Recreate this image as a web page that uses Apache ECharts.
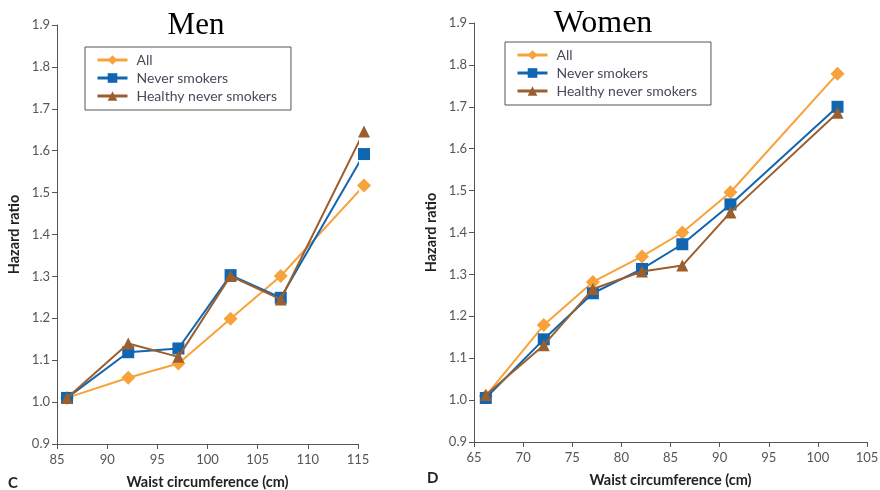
<!DOCTYPE html>
<html>
<head>
<meta charset="utf-8">
<script src="https://cdn.jsdelivr.net/npm/echarts@6/dist/echarts.min.js"></script>
<style>
  html, body { margin: 0; padding: 0; background: #fff; }
  #chart { width: 880px; height: 490px; }
</style>
</head>
<body>
<div id="chart"></div>
<script>
// men panel
var menWaist = [86, 92.1, 97.1, 102.3, 107.3, 115.6];
var menAll = [1.01, 1.058, 1.092, 1.199, 1.301, 1.517];
var menNever = [1.01, 1.119, 1.128, 1.303, 1.249, 1.592];
var menHealthy = [1.01, 1.14, 1.108, 1.301, 1.245, 1.646];

// women panel
var womenWaist = [66.2, 72.1, 77.1, 82.1, 86.2, 91.1, 102];
var womenAll = [1.01, 1.179, 1.282, 1.343, 1.40, 1.496, 1.779];
var womenNever = [1.005, 1.145, 1.255, 1.313, 1.372, 1.467, 1.70];
var womenHealthy = [1.012, 1.131, 1.265, 1.307, 1.321, 1.448, 1.686];

var seriesNames = ['All', 'Never smokers', 'Healthy never smokers'];
var colors = ['#F7A23B', '#1066B1', '#9B5E2E'];
var symbols = ['diamond', 'rect', 'triangle'];
var symbolSizes = [14, 12, 12];

function pairs(xs, ys) {
    var out = [];
    for (var i = 0; i < xs.length; i++) {
        out.push([xs[i], ys[i]]);
    }
    return out;
}

function makeSeries(idx, xs, ys, k) {
    return {
        name: seriesNames[k],
        type: 'line',
        xAxisIndex: idx,
        yAxisIndex: idx,
        data: pairs(xs, ys),
        symbol: symbols[k],
        symbolSize: symbolSizes[k],
        showAllSymbol: true,
        clip: false,
        z: 2 + k,
        lineStyle: { color: colors[k], width: 2 },
        itemStyle: { color: colors[k] },
        emphasis: { disabled: true }
    };
}

var labelFont = 'Lato, "DejaVu Sans", sans-serif';
var axisGray = '#555';

function xAxisDef(idx, min, max) {
    return {
        type: 'value',
        gridIndex: idx,
        min: min,
        max: max,
        interval: 5,
        name: 'Waist circumference (cm)',
        nameLocation: 'middle',
        nameGap: 31,
        nameTextStyle: { fontFamily: labelFont, fontWeight: 'bold', fontSize: 14.5, color: '#222' },
        axisLine: { lineStyle: { color: axisGray, width: 1 } },
        axisTick: { show: true, length: 5, lineStyle: { color: axisGray } },
        axisLabel: { fontFamily: labelFont, fontSize: 13, color: '#555', margin: 9 },
        splitLine: { show: false }
    };
}

function yAxisDef(idx) {
    return {
        type: 'value',
        gridIndex: idx,
        min: 0.9,
        max: 1.9,
        interval: 0.1,
        name: 'Hazard ratio',
        nameLocation: 'middle',
        nameGap: 35,
        nameTextStyle: { fontFamily: labelFont, fontWeight: 'bold', fontSize: 14.5, color: '#222' },
        axisLine: { show: true, lineStyle: { color: axisGray, width: 1 } },
        axisTick: { show: true, length: 5, lineStyle: { color: axisGray } },
        axisLabel: {
            fontFamily: labelFont, fontSize: 13, color: '#555', margin: 7,
            formatter: function (v) { return v.toFixed(1); }
        },
        splitLine: { show: false }
    };
}

function legendDef(left, top) {
    return {
        orient: 'vertical',
        left: left,
        top: top,
        data: seriesNames,
        itemWidth: 30,
        itemHeight: 12,
        itemGap: 4,
        padding: [6, 14, 7, 11],
        borderColor: '#555',
        borderWidth: 1,
        backgroundColor: '#fff',
        selectedMode: false,
        lineStyle: { width: 3 },
        textStyle: { fontFamily: labelFont, fontSize: 14, color: '#4a4a5a', padding: [0, 0, 0, 4] }
    };
}

var chart = echarts.init(document.getElementById('chart'), null, { renderer: 'canvas' });

var option = {
    animation: false,
    backgroundColor: '#fff',
    title: [
        {
            text: 'Men', left: 191, top: 5, textAlign: 'center',
            textStyle: { fontFamily: '"Liberation Serif", "DejaVu Serif", serif', fontWeight: 'normal', fontSize: 31, color: '#000' }
        },
        {
            text: 'Women', left: 598, top: 3, textAlign: 'center',
            textStyle: { fontFamily: '"Liberation Serif", "DejaVu Serif", serif', fontWeight: 'normal', fontSize: 32, color: '#000' }
        }
    ],
    legend: [
        legendDef(85, 47),
        legendDef(505, 42)
    ],
    grid: [
        { left: 57, top: 25, width: 301, height: 419, containLabel: false, outerBoundsMode: 'none' },
        { left: 474, top: 23, width: 393, height: 419, containLabel: false, outerBoundsMode: 'none' }
    ],
    xAxis: [xAxisDef(0, 85, 115), xAxisDef(1, 65, 105)],
    yAxis: [yAxisDef(0), yAxisDef(1)],
    series: [
        makeSeries(0, menWaist, menAll, 0),
        makeSeries(0, menWaist, menNever, 1),
        makeSeries(0, menWaist, menHealthy, 2),
        makeSeries(1, womenWaist, womenAll, 0),
        makeSeries(1, womenWaist, womenNever, 1),
        makeSeries(1, womenWaist, womenHealthy, 2)
    ],
    graphic: [
        { type: 'text', left: 8, top: 476, style: { text: 'C', fontFamily: labelFont, fontWeight: 'bold', fontSize: 15, fill: '#222' } },
        { type: 'text', left: 427, top: 471, style: { text: 'D', fontFamily: labelFont, fontWeight: 'bold', fontSize: 15, fill: '#222' } }
    ]
};

chart.setOption(option);
</script>
</body>
</html>
